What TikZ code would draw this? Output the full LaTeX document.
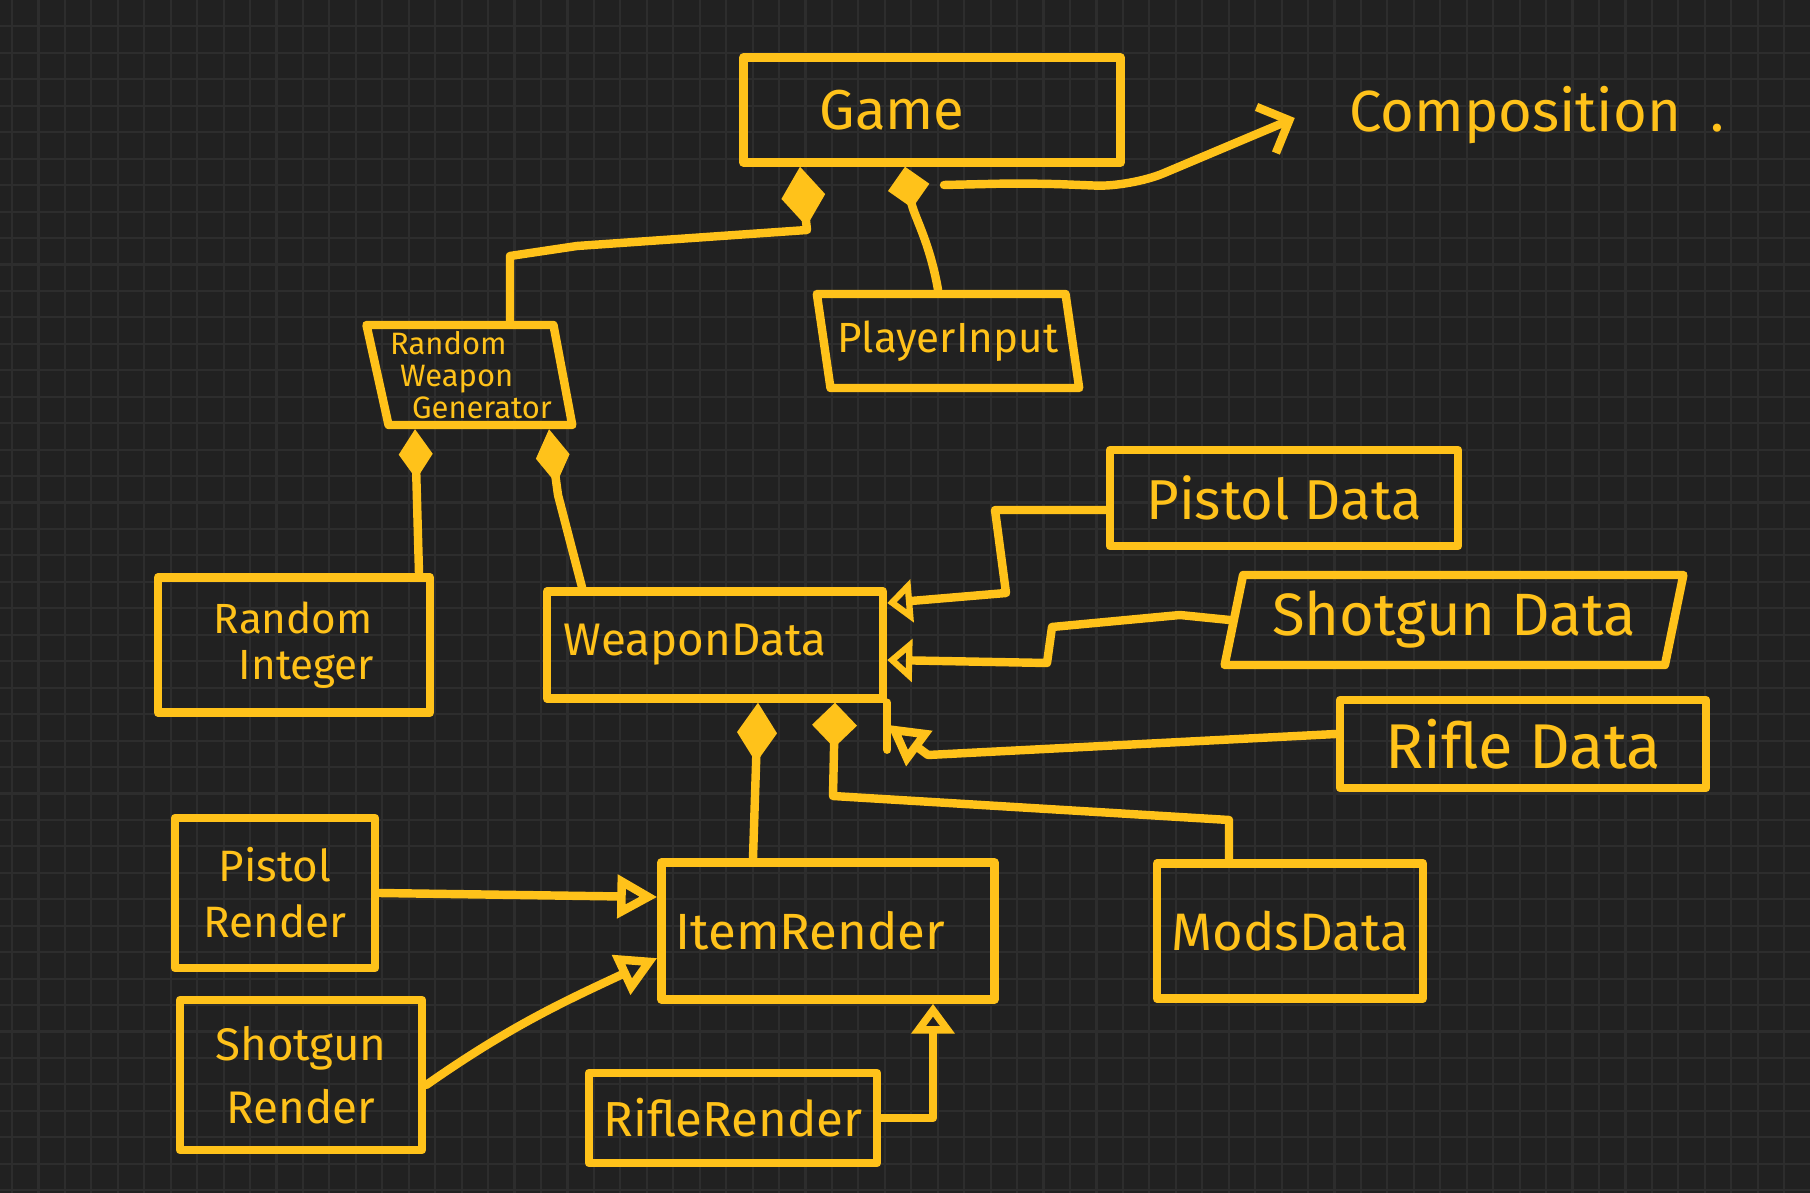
\documentclass[tikz,border=0pt]{standalone}
\usepackage{fontspec}
\setmainfont{Fira Sans}
\usetikzlibrary{shapes.geometric}
\usetikzlibrary{arrows.meta}
\usetikzlibrary{math}

\definecolor{marker}{HTML}{FFC21A}
\definecolor{board}{HTML}{212121}
\definecolor{boardgrid}{HTML}{2D2D2D}

\tikzset{
	pen/.style = {draw=marker, line width=2.4pt, line cap=round, line join=round},
	box/.style = {pen, text=marker, rectangle, inner sep=2pt, align=center},
	slanted/.style = {pen, text=marker, trapezium, trapezium stretches=true, inner sep=2pt, align=center},
	owns/.style 2 args = {pen, -{Diamond[length=#1, width=#2]}},
	isa/.style = {pen, -{Triangle[open, length=#1, width=4.2mm]}},
	isa/.default = 4mm,
	pointer/.style = {pen, -{Straight Barb[length=2.5mm, width=5mm]}}
}

\begin{document}
\begin{tikzpicture}

	\tikzmath{\gs = 0.2645;};
	\useasboundingbox (0,0) rectangle (18.10,-11.93);
	\fill [board] (-0.1,0.1) rectangle (18.2,-12.03);
	\foreach \i in {0,...,68}
		\draw [boardgrid, line width=0.6pt] (0.12+\i*\gs,0.1) -- (0.12+\i*\gs,-12.03);
	\foreach \j in {1,...,45}
		\draw [boardgrid, line width=0.6pt] (-0.1,-\j*\gs) -- (18.2,-\j*\gs);

	\node [box, minimum width=3.77cm, minimum height=1.05cm, font=\fontsize{16}{19}\selectfont] (game) at (9.32,-1.10) {Game\hspace*{0.8cm}};
	\node [text=marker, font=\fontsize{16.5}{20}\selectfont] (comp) at (15.37,-1.15) {Composition\hspace{0.3cm}.};
	\node [slanted, trapezium left angle=104, trapezium right angle=76, minimum width=2.63cm, minimum height=0.94cm, font=\fontsize{12}{14}\selectfont] (input) at (9.48,-3.41) {PlayerInput};
	\node [slanted, trapezium left angle=104, trapezium right angle=78, minimum width=2.06cm, minimum height=1.00cm, inner sep=0pt, align=left, font=\fontsize{8.8}{9}\selectfont] (generator) at (4.71,-3.75) {Random\\\hspace*{0.1cm}Weapon\\\hspace*{0.22cm}Generator};

	\node [box, minimum width=2.72cm, minimum height=1.35cm, align=left, font=\fontsize{12}{13}\selectfont] (integer) at (2.94,-6.45) {Random\\\hspace*{0.25cm}Integer};
	\node [box, minimum width=3.36cm, minimum height=1.07cm, font=\fontsize{13}{15}\selectfont] (weapon) at (7.15,-6.45) {WeaponData\hspace*{0.4cm}};
	\node [box, minimum width=3.48cm, minimum height=0.96cm, font=\fontsize{16}{19}\selectfont] (pistol) at (12.84,-4.98) {Pistol Data};
	\node [slanted, trapezium left angle=77, trapezium right angle=103, minimum width=4.59cm, minimum height=0.90cm, font=\fontsize{17}{20}\selectfont] (shotgun) at (14.54,-6.20) {Shotgun Data};
	\node [box, minimum width=3.66cm, minimum height=0.88cm, font=\fontsize{18}{21}\selectfont] (rifle) at (15.23,-7.44) {Rifle Data};

	\node [box, minimum width=3.33cm, minimum height=1.37cm, font=\fontsize{14.5}{17}\selectfont] (item) at (8.28,-9.31) {ItemRender\hspace*{0.35cm}};
	\node [box, minimum width=2.66cm, minimum height=1.35cm, font=\fontsize{15}{18}\selectfont] (mods) at (12.90,-9.31) {ModsData};
	\node [box, minimum width=2.0cm, minimum height=1.5cm, font=\fontsize{12.5}{16}\selectfont] (pistolrender) at (2.75,-8.93) {Pistol\\Render};
	\node [box, minimum width=2.42cm, minimum height=1.5cm, font=\fontsize{13}{18}\selectfont] (shotgunrender) at (3.01,-10.75) {Shotgun\\Render};
	\node [box, minimum width=2.88cm, minimum height=0.90cm, font=\fontsize{14}{17}\selectfont] (riflerender) at (7.33,-11.18) {RifleRender};

	% composition
	\draw [owns={6mm}{4.4mm}] ([xshift=0.39cm]generator.north) -- (5.10,-2.56) -- (5.77,-2.46) -- (8.07,-2.30) -- ([xshift=-1.32cm]game.south);
	\draw [owns={4.2mm}{4.2mm}] ([xshift=-0.1cm]input.north) to [out=100, in=-80] ([xshift=-0.27cm]game.south);
	\coordinate (compstart) at (9.44,-1.85);
	\draw [pointer, rounded corners=10pt] (compstart) -- (10.30,-1.83) -- (11.31,-1.87) -- ([xshift=-0.42cm, yshift=-0.03cm]comp.west);

	\draw [owns={5mm}{3.4mm}] ([xshift=1.25cm]integer.north) -- ([xshift=-0.56cm]generator.south);
	\draw [owns={5.5mm}{3.4mm}] ([xshift=-1.33cm]weapon.north) -- (5.58,-4.95) -- ([xshift=0.78cm]generator.south);

	\draw [owns={6mm}{4mm}] ([xshift=-0.75cm]item.north) -- ([xshift=0.43cm]weapon.south);
	\draw [owns={4.5mm}{4.5mm}] ([xshift=-0.61cm]mods.north) -- (12.29,-8.20) -- (8.33,-7.96) -- ([xshift=1.20cm]weapon.south);

	% inheritance
	\draw [isa=2.5mm] ([yshift=-0.12cm]pistol.west) -- (9.95,-5.10) -- (10.06,-5.93) -- ([yshift=0.42cm]weapon.east);
	\draw [isa=2.5mm] (shotgun.west) -- (11.80,-6.15) -- (10.52,-6.27) -- (10.47,-6.63) -- ([yshift=-0.15cm]weapon.east);
	\draw [pen] (weapon.south east) -- ++(0,-0.47);
	\draw [isa] ([yshift=0.1cm]rifle.west) -- (9.28,-7.55) -- ([yshift=-0.22cm]weapon.south east);

	\draw [isa] (pistolrender.east) -- ([yshift=0.34cm]item.west);
	\draw [isa] ([yshift=-0.1cm]shotgunrender.east) to [out=35, in=205] ([yshift=-0.27cm]item.west);
	\draw [isa=3mm] (riflerender.east) -| ([xshift=1.05cm]item.south);

\end{tikzpicture}
\end{document}
